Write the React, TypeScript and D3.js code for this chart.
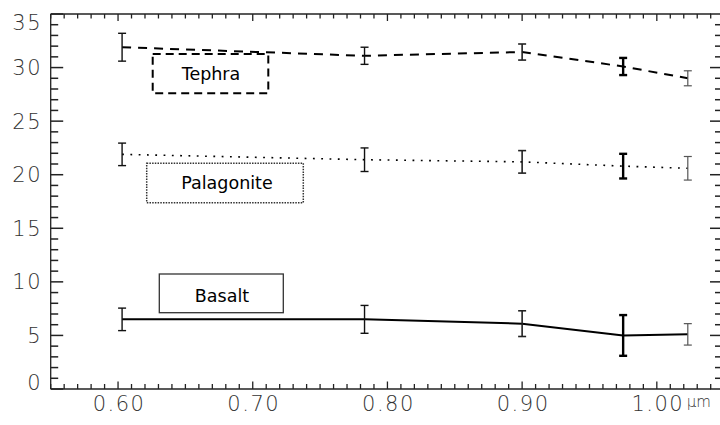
import React from 'react'
import * as d3 from 'd3'

// wavelength (µm) of each measurement
const wavelengths = [0.603, 0.783, 0.9, 0.975, 1.023]

const tephra = [31.9, 31.1, 31.45, 30.1, 29.0]
const tephraErr = [1.3, 0.8, 0.75, 0.8, 0.7]

const palagonite = [21.9, 21.4, 21.2, 20.8, 20.6]
const palagoniteErr = [1.05, 1.1, 1.05, 1.15, 1.1]

const basalt = [6.5, 6.5, 6.1, 5.0, 5.1]
const basaltErr = [1.05, 1.3, 1.2, 1.9, 1.0]

const xTickLabels = ['0.60', '0.70', '0.80', '0.90', '1.00']
const yTickValues = [0, 5, 10, 15, 20, 25, 30, 35]

const W = 720
const H = 425
const left = 50.7
const right = 710.7
const top = 14
const bottom = 389

const tickFont = {
  fontFamily: 'DejaVu Sans, sans-serif',
  fontSize: 21,
  fontWeight: 200,
  letterSpacing: 1.5,
  fill: '#333'
}

const App = () => {
  const x = d3.scaleLinear().domain([0.55, 1.04]).range([left, right])
  const y = d3.scaleLinear().domain([0, 35]).range([bottom, top])

  const xMinor = x.ticks(49)
  const xMajor = x.ticks(5)
  const yMinor = y.ticks(35)

  const line = d3.line<number>()
    .x((d, i) => x(wavelengths[i]))
    .y(d => y(d))

  const errWidths = [1.4, 1.4, 1.6, 2.4, 1.2]
  const errColors = ['#111', '#111', '#222', '#000', '#555']

  const errorBars = (vals: number[], errs: number[], key: string) =>
    vals.map((v, i) => {
      const cx = x(wavelengths[i])
      const y1 = y(v + errs[i])
      const y2 = y(v - errs[i])
      return (
        <g key={key + i} stroke={errColors[i]} strokeWidth={errWidths[i]}>
          <line x1={cx} x2={cx} y1={y1} y2={y2} />
          <line x1={cx - 4} x2={cx + 4} y1={y1} y2={y1} />
          <line x1={cx - 4} x2={cx + 4} y1={y2} y2={y2} />
        </g>
      )
    })

  const isMajorX = (t: number) => Math.abs(t * 10 - Math.round(t * 10)) < 1e-6
  const isMajorY = (t: number) => t % 5 === 0

  return (
    <svg width={W} height={H} style={{ position: 'absolute', left: 0, top: 0, background: '#fff' }}>
      {/* frame */}
      <g stroke="#222" strokeWidth={1.3} fill="none">
        <line x1={left} x2={left} y1={top} y2={bottom} />
        <line x1={left} x2={right} y1={bottom} y2={bottom} />
        <line x1={left} x2={right} y1={top} y2={top} />
      </g>

      {/* x ticks */}
      <g stroke="#222" strokeWidth={1.3}>
        {xMinor.map(t => {
          const len = isMajorX(t) ? 7.5 : 5
          return <line key={'xb' + t} x1={x(t)} x2={x(t)} y1={bottom} y2={bottom - len} />
        })}
        {xMinor.map(t => {
          const len = isMajorX(t) ? 7 : 4.5
          return <line key={'xt' + t} x1={x(t)} x2={x(t)} y1={top} y2={top + len} />
        })}
      </g>

      {/* y ticks */}
      <g stroke="#222" strokeWidth={1.5}>
        {yMinor.map(t => {
          const len = isMajorY(t) ? 12.5 : 7.5
          return <line key={'yl' + t} x1={left} x2={left + len} y1={y(t)} y2={y(t)} />
        })}
        {yMinor.map(t => {
          const len = isMajorY(t) ? 10 : 5
          return <line key={'yr' + t} x1={W} x2={W - len} y1={y(t)} y2={y(t)} />
        })}
      </g>

      {/* tick labels */}
      {xMajor.map((t, i) => (
        <text key={'xl' + t} x={x(t) + 1} y={411} textAnchor="middle" style={tickFont}>
          {xTickLabels[i]}
        </text>
      ))}
      <text x={x(1.0) + 30} y={407} style={{ ...tickFont, fontSize: 15, letterSpacing: 0 }}>µm</text>
      {yTickValues.map(t => (
        <text
          key={'yt' + t}
          x={42}
          y={Math.min(Math.max(y(t), 22), 382) + 7.5}
          textAnchor="end"
          style={tickFont}
        >
          {t}
        </text>
      ))}

      {/* series */}
      <path d={line(tephra) || ''} fill="none" stroke="#000" strokeWidth={2} strokeDasharray="9 7" />
      <path d={line(palagonite) || ''} fill="none" stroke="#000" strokeWidth={1.6} strokeDasharray="1.8 6.5" />
      <path d={line(basalt) || ''} fill="none" stroke="#000" strokeWidth={2} />

      {errorBars(tephra, tephraErr, 't')}
      {errorBars(palagonite, palagoniteErr, 'p')}
      {errorBars(basalt, basaltErr, 'b')}

      {/* legend boxes */}
      <g fontFamily="DejaVu Sans, sans-serif" fontSize={17.5} textAnchor="middle" fill="#000">
        <rect x={152.7} y={54} width={115.6} height={39.3} fill="none" stroke="#000" strokeWidth={2} strokeDasharray="8 5" />
        <text x={211} y={80}>Tephra</text>

        <rect x={146.7} y={163.3} width={156.6} height={39.4} fill="none" stroke="#333" strokeWidth={1.5} strokeDasharray="1.5 1.2" />
        <text x={227} y={189}>Palagonite</text>

        <rect x={159.3} y={274} width={124} height={38.7} fill="none" stroke="#333" strokeWidth={1.3} />
        <text x={222} y={302}>Basalt</text>
      </g>
    </svg>
  )
}

export default App
